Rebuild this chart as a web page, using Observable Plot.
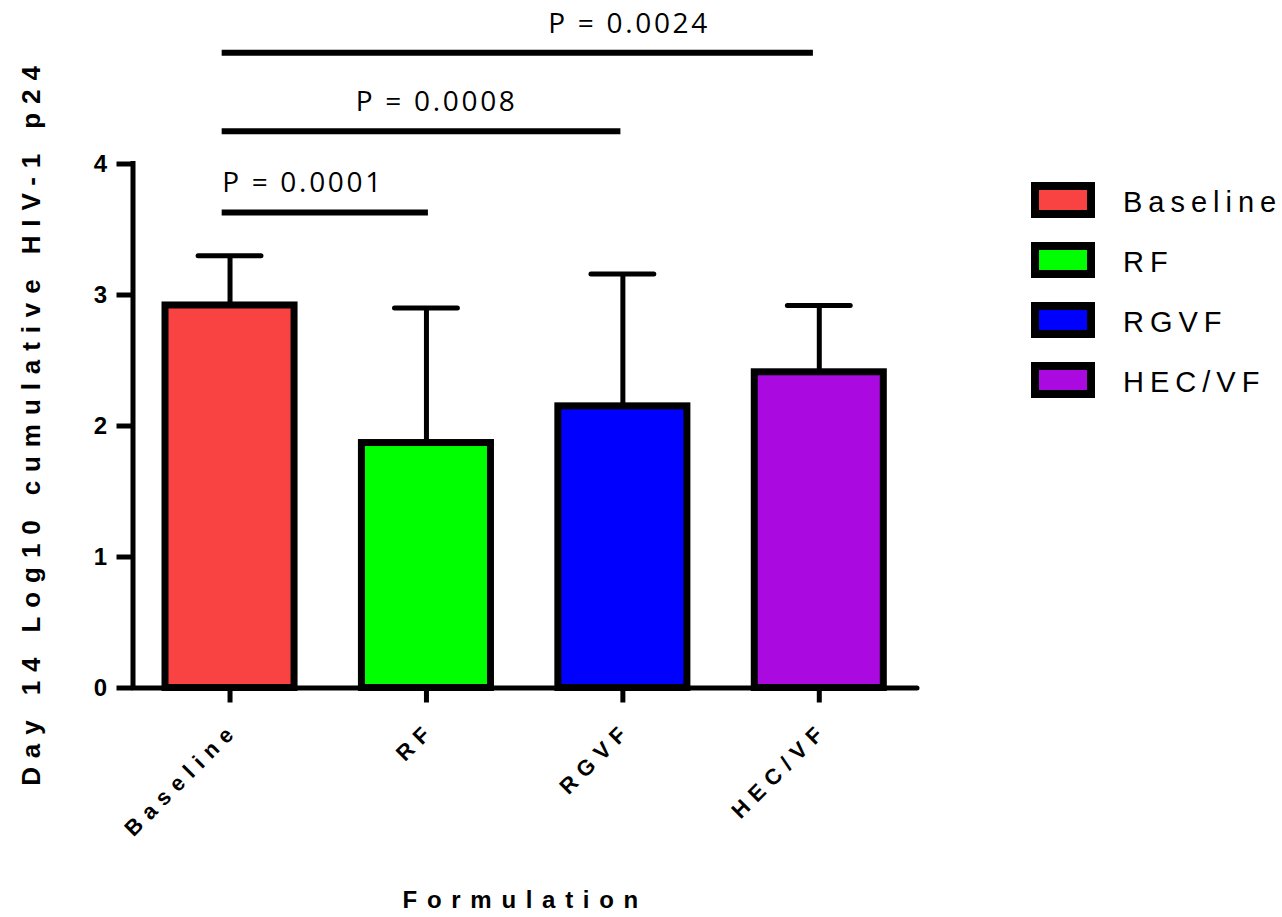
<!DOCTYPE html>
<html><head><meta charset="utf-8">
<script src="https://cdn.jsdelivr.net/npm/d3@7"></script>
<script src="https://cdn.jsdelivr.net/npm/@observablehq/plot@0.6"></script>
<style>
body{margin:0;background:#fff;}
#wrap{position:relative;width:1282px;height:917px;overflow:hidden;}
#legend{position:absolute;left:1031px;top:182px;font-family:"Liberation Sans",Arial,sans-serif;color:#000;}
.item{display:flex;align-items:center;height:36px;margin-bottom:24px;}
.sw{width:64px;height:36px;box-sizing:border-box;border:8px solid #000;flex:none;}
.lab{margin-left:28px;font-size:29px;letter-spacing:6px;line-height:36px;position:relative;top:2px;white-space:nowrap;}
</style></head><body><div id="wrap"><div id="legend"></div></div>
<script>
// ---- data ----
const formulations = ["Baseline", "RF", "RGVF", "HEC/VF"];
const means = [2.92, 1.87, 2.15, 2.41];
const sdUpper = [0.38, 1.03, 1.01, 0.51];
const colors = ["#f94343", "#00ff00", "#0000ff", "#aa0ae0"];
const yTicks = [0, 1, 2, 3, 4];
const sigLabels = ["P = 0.0001", "P = 0.0008", "P = 0.0024"];
const sigFrom = [-0.04, -0.04, -0.04];
const sigTo = [1.01, 1.99, 2.97];
const sigLevel = [3.63, 4.25, 4.85];
const sigTextX = [-0.04, 0.64, 1.62];
const yTitle = "Day 14 Log10 cumulative HIV-1 p24";
const xTitle = "Formulation";

// ---- tables ----
const bars = formulations.map((name, i) => ({name, i, mean: means[i], upper: means[i] + sdUpper[i]}));
const sig = sigLabels.map((label, k) => ({label, from: sigFrom[k], to: sigTo[k], level: sigLevel[k], tx: sigTextX[k]}));

const halfBar = 0.3285, halfCap = 0.16;
const xDomain = [-0.494, 3.5];

const chart = Plot.plot({
  width: 1282, height: 917,
  marginLeft: 132.5, marginRight: 1282 - 917, marginTop: 163.5, marginBottom: 917 - 687.5,
  style: {fontFamily: "'Liberation Sans', Arial, sans-serif", color: "#000", background: "#fff"},
  x: {domain: xDomain, axis: null},
  y: {domain: [0, 4], axis: null},
  color: {domain: formulations, range: colors},
  marks: [
    // error bars
    Plot.ruleX(bars, {x: "i", y1: "mean", y2: "upper", stroke: "#000", strokeWidth: 5}),
    Plot.ruleY(bars, {y: "upper", x1: d => d.i - halfCap, x2: d => d.i + halfCap, stroke: "#000", strokeWidth: 5, strokeLinecap: "round"}),
    // bars
    Plot.rectY(bars, {x1: d => d.i - halfBar, x2: d => d.i + halfBar, y1: 0, y2: "mean", fill: "name", stroke: "#000", strokeWidth: 7}),
    // axes
    Plot.axisY({ticks: yTicks, tickSize: 16, tickPadding: 10, tickFormat: d => String(d), fontSize: 24, fontWeight: "bold", strokeWidth: 5, label: null}),
    Plot.axisX({ticks: [0, 1, 2, 3], tickSize: 15, tickFormat: () => "", strokeWidth: 5, label: null}),
    Plot.ruleX([xDomain[0]], {y1: 0, y2: 4, stroke: "#000", strokeWidth: 5, strokeLinecap: "square"}),
    Plot.ruleY([0], {x1: xDomain[0], x2: xDomain[1], stroke: "#000", strokeWidth: 5, strokeLinecap: "round"}),
    // x tick labels
    Plot.text(bars, {x: "i", y: () => 0, text: "name", rotate: -45, textAnchor: "end", lineAnchor: "bottom", dx: 10, dy: 43, fontSize: 22, fontWeight: "bold", fill: "#000"}),
    // significance
    Plot.ruleY(sig, {y: "level", x1: "from", x2: "to", stroke: "#000", strokeWidth: 6}),
    Plot.text(sig, {x: "tx", y: "level", text: "label", textAnchor: "start", lineAnchor: "bottom", dy: -20, fontSize: 28, fontFamily: "'Open Sans', sans-serif", fill: "#000"}),
    // axis titles
    Plot.text([yTitle], {frameAnchor: "left", text: d => d, rotate: -90, textAnchor: "middle", lineAnchor: "bottom", dx: -93, dy: -4.5, fontSize: 26, fontWeight: "bold", fill: "#000"}),
    Plot.text([xTitle], {frameAnchor: "bottom", text: d => d, textAnchor: "middle", lineAnchor: "bottom", dx: 0, dy: 219.5, fontSize: 24, fontWeight: "bold", fill: "#000"})
  ]
});

const svg = d3.select(chart);
svg.selectAll("text").each(function() {
  const t = this.textContent;
  if (formulations.includes(t)) this.setAttribute("letter-spacing", "7.5px");
  else if (t === yTitle) this.setAttribute("letter-spacing", "8.9px");
  else if (t === xTitle) this.setAttribute("letter-spacing", "9.7px");
  else if (sigLabels.includes(t)) this.setAttribute("letter-spacing", "2.7px");
});
chart.style.position = "absolute";
chart.style.left = "0"; chart.style.top = "0";
document.getElementById("wrap").prepend(chart);

// legend
const leg = d3.select("#legend");
formulations.forEach((name, i) => {
  const it = leg.append("div").attr("class", "item");
  it.append("div").attr("class", "sw").style("background", colors[i]);
  it.append("span").attr("class", "lab").text(name);
});
</script>
</body></html>
